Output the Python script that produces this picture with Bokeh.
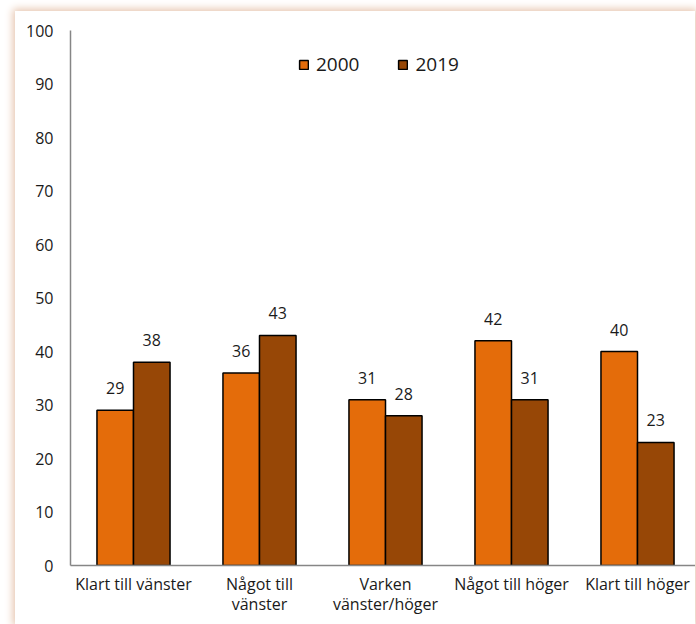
from bokeh.plotting import figure
from bokeh.models import Range1d, FixedTicker, ColumnDataSource
from bokeh.core.properties import value
from bokeh.embed import file_html
from bokeh.resources import INLINE

categories = ["Klart till vänster", "Något till\nvänster", "Varken\nvänster/höger",
              "Något till höger", "Klart till höger"]
series_names = ["2000", "2019"]
values_2000 = [29, 36, 31, 42, 40]
values_2019 = [38, 43, 28, 31, 23]
y_ticks = [0, 10, 20, 30, 40, 50, 60, 70, 80, 90, 100]
colors = ["#E46C0A", "#974706"]

FONT = "Open Sans"
W, H = 680, 613

p = figure(width=W, height=H, output_backend="svg", toolbar_location=None,
           x_range=Range1d(-0.5, -0.5 + 625 / 126), y_range=Range1d(0, 100),
           min_border_left=55, min_border_right=0, min_border_top=19, min_border_bottom=59,
           margin=(11, 0, 0, 15),
           styles={"box-shadow": "0px 0px 8px 2px #e6c4ad"})
p.outline_line_color = None
p.xgrid.visible = False
p.ygrid.visible = False
p.background_fill_color = "white"
p.border_fill_color = "white"

idx = list(range(len(categories)))
bw = 0.29
off = 0.145
for vals, name, col, sgn in [(values_2000, series_names[0], colors[0], -1),
                             (values_2019, series_names[1], colors[1], 1)]:
    xs = [i + sgn * off for i in idx]
    src = ColumnDataSource(dict(x=xs, top=vals, lab=[str(v) for v in vals]))
    p.vbar(x="x", top="top", width=bw, bottom=0, source=src, fill_color=col,
           line_color="black", line_width=1.5, legend_label=name)
    p.text(x="x", y="top", text="lab", source=src, text_align="center",
           text_baseline="alphabetic", y_offset=-22, text_font=value(FONT),
           text_font_size="16px", text_color="#1a1a1a")

# axes
p.yaxis.ticker = FixedTicker(ticks=y_ticks)
p.yaxis.major_tick_line_color = None
p.yaxis.minor_tick_line_color = None
p.yaxis.major_tick_out = 0
p.yaxis.major_tick_in = 0
p.yaxis.axis_line_color = "#868686"
p.yaxis.axis_line_width = 1.5
p.yaxis.major_label_standoff = 17
p.yaxis.major_label_text_font = FONT
p.yaxis.major_label_text_font_size = "16px"
p.yaxis.major_label_text_color = "#1a1a1a"

p.xaxis.ticker = FixedTicker(ticks=idx)
p.xaxis.major_label_overrides = {i: c for i, c in zip(idx, categories)}
p.xaxis.major_tick_line_color = None
p.xaxis.minor_tick_line_color = None
p.xaxis.major_tick_out = 0
p.xaxis.major_tick_in = 0
p.xaxis.axis_line_color = "#868686"
p.xaxis.axis_line_width = 1.5
p.xaxis.major_label_standoff = 7
p.xaxis.major_label_text_font = FONT
p.xaxis.major_label_text_font_size = "16px"
p.xaxis.major_label_text_line_height = 0.92
p.xaxis.major_label_text_color = "#1a1a1a"

lg = p.legend[0]
lg.orientation = "horizontal"
lg.location = (228, 488)
lg.border_line_color = None
lg.background_fill_alpha = 0
lg.label_text_font = FONT
lg.label_text_font_size = "19px"
lg.label_text_color = "#1a1a1a"
lg.glyph_width = 11
lg.glyph_height = 11
lg.label_standoff = 7
lg.spacing = 38
lg.padding = 0
lg.margin = 0

open("out.html", "w").write(file_html(p, INLINE))
